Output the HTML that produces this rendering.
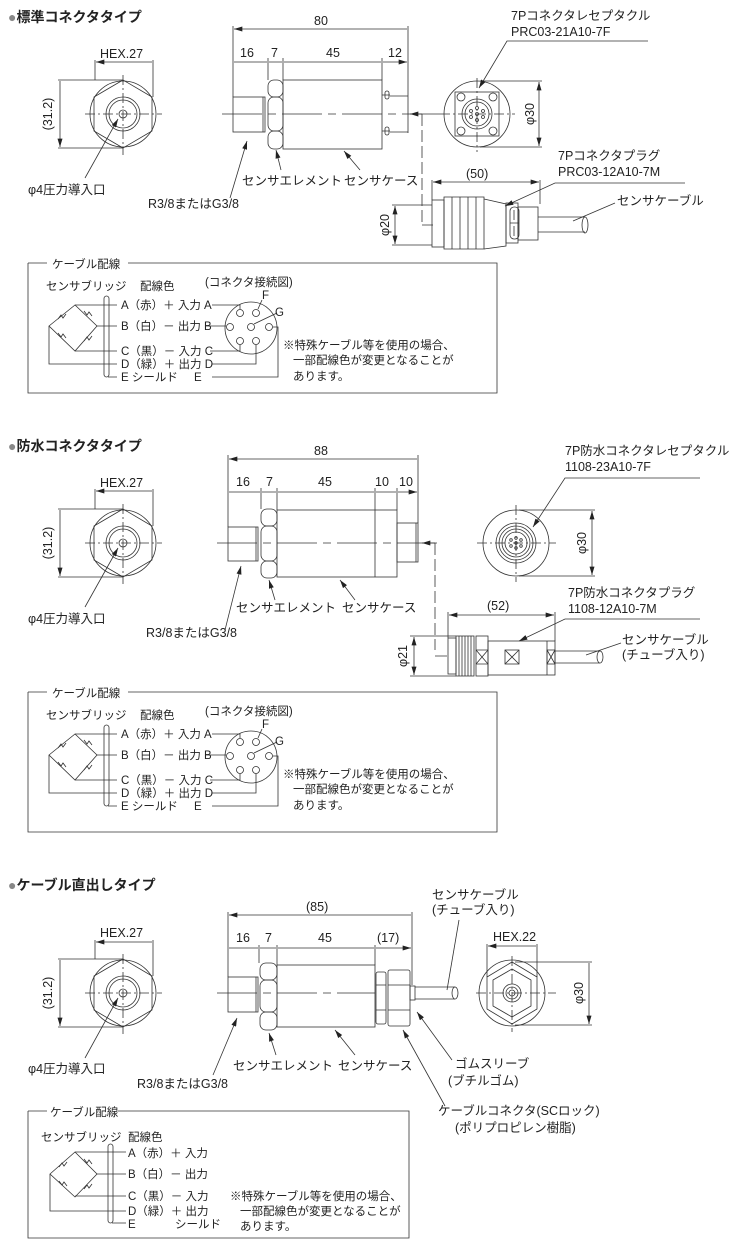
<!DOCTYPE html>
<html><head><meta charset="utf-8"><style>
html,body{margin:0;padding:0;background:#fff}
svg{display:block}
text{font-family:"Liberation Sans","Noto Sans CJK JP",sans-serif;fill:#222;font-size:12.5px}
.t{font-size:14px;font-weight:bold}
.s{font-size:11.5px}
.g{fill:#888}
</style></head><body>
<svg width="745" height="1250" viewBox="0 0 745 1250" xmlns="http://www.w3.org/2000/svg">
<defs>
<marker id="a" viewBox="0 0 10 6" refX="10" refY="3" markerUnits="userSpaceOnUse" markerWidth="9" markerHeight="5" orient="auto-start-reverse"><path d="M0,0L10,3L0,6z" fill="#222" stroke="none"/></marker>
</defs>
<g stroke="#333" stroke-width="0.8" fill="none">

<!-- ============ SECTION 1 ============ -->
<circle cx="123" cy="114" r="33"/>
<polygon points="123,80 152,97 152,131 123,148 94,131 94,97"/>
<circle cx="123" cy="114" r="17"/><circle cx="123" cy="114" r="14"/><circle cx="123" cy="114" r="4"/>
<path d="M85,114H162M123,75V155" stroke-dasharray="10,3,2,3"/>
<path d="M95,60V80M153,60V97M58,80H123M58,148H123"/>
<path d="M96,62H152M60,81V147" marker-start="url(#a)" marker-end="url(#a)"/>
<path d="M85,178L118,119" marker-end="url(#a)"/>
<rect x="233" y="97" width="32" height="35"/><path d="M263,97V132"/>
<rect x="268" y="80" width="15" height="17" rx="6"/><rect x="268" y="97" width="15" height="34" rx="6"/><rect x="268" y="131" width="15" height="18" rx="6"/>
<rect x="283" y="80" width="99" height="69"/>
<path d="M382,95h8M382,131h8"/><rect x="385" y="91" width="4" height="8" rx="2"/><rect x="385" y="127" width="4" height="8" rx="2"/>
<path d="M222,114H440" stroke-dasharray="40,6,8,6"/>
<path d="M233,26V97M408,26V133M268,58V80M283,58V80M382,58V80M390,96H408M390,132H408"/>
<path d="M234,29H407M234,62H267M269,62H282M284,62H381M383,62H407" marker-start="url(#a)" marker-end="url(#a)"/>
<path d="M422,114V225M422,225H433" stroke-dasharray="12,4"/>
<path d="M422,114H410" marker-end="url(#a)"/>
<path d="M230,198L247,141" marker-end="url(#a)"/>
<path d="M281,170L276,150" marker-end="url(#a)"/>
<path d="M360,170L344,151" marker-end="url(#a)"/>
<circle cx="477" cy="114" r="33"/>
<rect x="455" y="92" width="44" height="44"/>
<circle cx="461" cy="97" r="4"/><circle cx="493" cy="97" r="4"/><circle cx="461" cy="131" r="4"/><circle cx="493" cy="131" r="4"/>
<circle cx="477" cy="114" r="15"/><circle cx="477" cy="114" r="12"/>
<circle cx="477" cy="108" r="1.5"/><circle cx="477" cy="120" r="1.5"/><circle cx="471" cy="111" r="1.5"/><circle cx="483" cy="111" r="1.5"/><circle cx="471" cy="117" r="1.5"/><circle cx="483" cy="117" r="1.5"/><circle cx="477" cy="114" r="1.5"/>
<path d="M440,114H515M477,78V152" stroke-dasharray="10,3,2,3"/>
<path d="M480,81H542M480,147H542"/>
<path d="M539,82V146" marker-start="url(#a)" marker-end="url(#a)"/>
<path d="M648,41H507L479,88" marker-end="url(#a)"/>
<rect x="432" y="200" width="12" height="47"/>
<path d="M444,197h40v52h-40z"/><path d="M452,197v52M460,197v52M468,197v52M476,197v52"/>
<path d="M484,199l22,5v42l-22,3"/>
<rect x="506" y="203" width="12" height="40"/><rect x="510" y="207" width="9" height="32" rx="4"/>
<path d="M510,223h9M514,210v10M514,226v10"/>
<rect x="518" y="207" width="20" height="33"/>
<path d="M538,217H585M538,232H585"/><ellipse cx="585" cy="225" rx="3" ry="8"/>
<path d="M432,180V200M540,180V204M392,205H432M392,245H432"/>
<path d="M433,182H539" marker-start="url(#a)" marker-end="url(#a)"/>
<path d="M395,206V244" marker-start="url(#a)" marker-end="url(#a)"/>
<path d="M685,183H555L505,206" marker-end="url(#a)"/>
<path d="M615,203L573,221"/>

<!-- wiring box 1 -->
<path d="M28,263H47M128,263H497V393H28V263"/>
<path d="M49,326L75,305L97,326L75,351Z"/>
<path d="M58,319l3,-4l2,3l3,-4M84,311l3,4l2,-3l3,4M58,333l3,4l2,-3l3,4M84,341l3,-4l2,3l3,-4"/>
<path d="M75,305H117M97,326H117M75,351H117M49,326V364H117M108,377H117"/>
<rect x="104" y="296" width="5" height="81" rx="2.5"/>
<circle cx="251" cy="328" r="26"/>
<circle cx="240" cy="313" r="3.5"/><circle cx="256" cy="313" r="3.5"/><circle cx="230" cy="327" r="3.5"/><circle cx="251" cy="327" r="3.5"/><circle cx="269" cy="327" r="3.5"/><circle cx="240" cy="341" r="3.5"/><circle cx="256" cy="341" r="3.5"/>
<path d="M212,305H240V309M205,326H226M210,351H240V345M212,364H256V345M212,377H278V327H273"/>
<path d="M262,300L258,309M277,313L254,324"/>

<!-- ============ SECTION 2 ============ -->
<circle cx="123" cy="543" r="33"/>
<polygon points="123,509 152,526 152,560 123,577 94,560 94,526"/>
<circle cx="123" cy="543" r="17"/><circle cx="123" cy="543" r="14"/><circle cx="123" cy="543" r="4"/>
<path d="M85,543H162M123,504V584" stroke-dasharray="10,3,2,3"/>
<path d="M95,489V509M153,489V526M58,509H123M58,577H123"/>
<path d="M96,491H152M60,510V576" marker-start="url(#a)" marker-end="url(#a)"/>
<path d="M85,607L118,548" marker-end="url(#a)"/>
<rect x="228" y="527" width="30" height="34"/><path d="M256,527V561"/>
<rect x="261" y="509" width="16" height="17" rx="6"/><rect x="261" y="526" width="16" height="35" rx="6"/><rect x="261" y="561" width="16" height="17" rx="6"/>
<rect x="277" y="510" width="120" height="67"/><path d="M375,510V577"/>
<rect x="397" y="523" width="21" height="39"/><path d="M416,523V562"/>
<path d="M217,543H440" stroke-dasharray="40,6,8,6"/>
<path d="M228,455V527M418,455V523M261,488V509M277,488V510M375,488V510M397,488V510"/>
<path d="M229,459H417M229,492H260M262,492H276M278,492H374M376,492H396M398,492H417" marker-start="url(#a)" marker-end="url(#a)"/>
<path d="M435,543V650M435,656H450" stroke-dasharray="12,4"/>
<path d="M435,543H422" marker-end="url(#a)"/>
<path d="M225,630L241,566" marker-end="url(#a)"/>
<path d="M275,600L269,580" marker-end="url(#a)"/>
<path d="M355,600L340,580" marker-end="url(#a)"/>
<circle cx="516" cy="543" r="33"/>
<circle cx="516" cy="543" r="20"/><circle cx="516" cy="543" r="17"/><circle cx="516" cy="543" r="14"/><circle cx="516" cy="543" r="11"/>
<circle cx="516" cy="538" r="1.3"/><circle cx="516" cy="548" r="1.3"/><circle cx="511" cy="540" r="1.3"/><circle cx="521" cy="540" r="1.3"/><circle cx="511" cy="546" r="1.3"/><circle cx="521" cy="546" r="1.3"/><circle cx="516" cy="543" r="1.3"/>
<path d="M477,543H556M516,505V582" stroke-dasharray="10,3,2,3"/>
<path d="M519,510H595M519,576H595"/>
<path d="M592,511V575" marker-start="url(#a)" marker-end="url(#a)"/>
<path d="M700,478H565L533,527" marker-end="url(#a)"/>
<rect x="448" y="638" width="8" height="36"/>
<rect x="456" y="636" width="18" height="40"/><path d="M459,636v40M462,636v40M465,636v40M468,636v40M471,636v40"/>
<rect x="476" y="636" width="12" height="40"/><path d="M476,650l12,14M488,650l-12,14M476,650h12M476,664h12"/>
<rect x="488" y="641" width="67" height="34"/>
<rect x="505" y="650" width="14" height="14"/><path d="M505,650l14,14M519,650l-14,14"/>
<path d="M547,641V675"/><rect x="547" y="650" width="8" height="14"/><path d="M547,650l8,14M555,650l-8,14"/>
<path d="M555,651H600M555,663H600"/><ellipse cx="600" cy="657" rx="3" ry="6"/>
<path d="M448,612V638M555,612V641M410,636H456M410,676H456"/>
<path d="M449,615H554" marker-start="url(#a)" marker-end="url(#a)"/>
<path d="M414,637V675" marker-start="url(#a)" marker-end="url(#a)"/>
<path d="M700,619H565L519,641" marker-end="url(#a)"/>
<path d="M621,643L586,655"/>

<!-- wiring box 2 -->
<path d="M28,692H47M128,692H497V832H28V692"/>
<path d="M49,755L75,734L97,755L75,780Z"/>
<path d="M58,748l3,-4l2,3l3,-4M84,740l3,4l2,-3l3,4M58,762l3,4l2,-3l3,4M84,770l3,-4l2,3l3,-4"/>
<path d="M75,734H117M97,755H117M75,780H117M49,755V793H117M108,806H117"/>
<rect x="104" y="725" width="5" height="81" rx="2.5"/>
<circle cx="251" cy="757" r="26"/>
<circle cx="240" cy="742" r="3.5"/><circle cx="256" cy="742" r="3.5"/><circle cx="230" cy="756" r="3.5"/><circle cx="251" cy="756" r="3.5"/><circle cx="269" cy="756" r="3.5"/><circle cx="240" cy="770" r="3.5"/><circle cx="256" cy="770" r="3.5"/>
<path d="M212,734H240V738M205,755H226M210,780H240V774M212,793H256V774M212,806H278V756H273"/>
<path d="M262,729L258,738M277,742L254,753"/>

<!-- ============ SECTION 3 ============ -->
<circle cx="123" cy="993" r="33"/>
<polygon points="123,959 152,976 152,1010 123,1027 94,1010 94,976"/>
<circle cx="123" cy="993" r="17"/><circle cx="123" cy="993" r="14"/><circle cx="123" cy="993" r="4"/>
<path d="M85,993H162M123,954V1034" stroke-dasharray="10,3,2,3"/>
<path d="M95,940V959M153,940V976M58,959H123M58,1027H123"/>
<path d="M96,942H152M60,960V1026" marker-start="url(#a)" marker-end="url(#a)"/>
<path d="M85,1058L118,998" marker-end="url(#a)"/>
<rect x="228" y="977" width="30" height="35"/><path d="M256,977V1012"/>
<rect x="260" y="963" width="17" height="17" rx="6"/><rect x="260" y="980" width="17" height="32" rx="6"/><rect x="260" y="1012" width="17" height="18" rx="6"/>
<rect x="277" y="965" width="98" height="62"/>
<rect x="376" y="972" width="10" height="52" rx="2"/><path d="M376,985h10M376,1010h10"/>
<rect x="388" y="970" width="22" height="56" rx="2"/><path d="M388,985h22M388,1010h22"/>
<rect x="410" y="986" width="5" height="14"/>
<path d="M415,987H455M415,999H455"/><ellipse cx="455" cy="993" rx="3" ry="6"/>
<path d="M217,993H375" stroke-dasharray="40,6,8,6"/>
<path d="M228,912V977M412,912V985M259,945V963M277,945V965M375,945V965"/>
<path d="M229,915H411M229,948H258M260,948H276M278,948H374M376,948H411" marker-start="url(#a)" marker-end="url(#a)"/>
<path d="M459,920L447,990"/>
<path d="M213,1075L237,1018" marker-end="url(#a)"/>
<path d="M276,1055L269,1033" marker-end="url(#a)"/>
<path d="M355,1055L335,1030" marker-end="url(#a)"/>
<path d="M452,1060L417,1012" marker-end="url(#a)"/>
<path d="M445,1106L403,1030" marker-end="url(#a)"/>
<circle cx="512" cy="993" r="33"/>
<polygon points="512,962 537,977 537,1009 512,1024 487,1009 487,977"/>
<polygon points="512,969 531,980 531,1006 512,1017 493,1006 493,980"/>
<circle cx="512" cy="993" r="9"/><circle cx="512" cy="993" r="6"/><circle cx="512" cy="993" r="3"/>
<path d="M476,993H556M512,956V1032" stroke-dasharray="10,3,2,3"/>
<path d="M487,944V977M537,944V977M515,962H592M515,1025H592"/>
<path d="M488,946H536M589,963V1024" marker-start="url(#a)" marker-end="url(#a)"/>

<!-- wiring box 3 -->
<path d="M28,1111H47M118,1111H409V1238H28V1111"/>
<path d="M50,1174L75,1152L97,1174L75,1197Z"/>
<path d="M59,1167l3,-4l2,3l3,-4M84,1159l3,4l2,-3l3,4M59,1181l3,4l2,-3l3,4M84,1189l3,-4l2,3l3,-4"/>
<path d="M75,1152H126M97,1174H126M75,1196H126M50,1174V1211H126M112,1223H126"/>
<rect x="108" y="1144" width="5" height="79" rx="2.5"/>
</g>

<!-- ============ TEXT ============ -->
<text x="8" y="22" class="t"><tspan class="g">●</tspan>標準コネクタタイプ</text>
<text x="100" y="58">HEX.27</text>
<text x="52" y="114" transform="rotate(-90 52 114)" text-anchor="middle">(31.2)</text>
<text x="28" y="194">φ4圧力導入口</text>
<text x="314" y="25">80</text>
<text x="240" y="57">16</text><text x="271" y="57">7</text><text x="326" y="57">45</text><text x="388" y="57">12</text>
<text x="242" y="185">センサエレメント</text>
<text x="344" y="185">センサケース</text>
<text x="148" y="208">R3/8またはG3/8</text>
<text x="511" y="20">7Pコネクタレセプタクル</text>
<text x="511" y="36">PRC03-21A10-7F</text>
<text x="534" y="114" transform="rotate(-90 534 114)" text-anchor="middle">φ30</text>
<text x="558" y="160">7Pコネクタプラグ</text>
<text x="558" y="176">PRC03-12A10-7M</text>
<text x="466" y="178">(50)</text>
<text x="617" y="205">センサケーブル</text>
<text x="389" y="225" transform="rotate(-90 389 225)" text-anchor="middle">φ20</text>

<text x="52" y="268" class="s">ケーブル配線</text>
<text x="46" y="290" class="s">センサブリッジ</text>
<text x="140" y="290" class="s">配線色</text>
<text x="205" y="286" class="s">(コネクタ接続図)</text>
<text x="121" y="309" class="s">A（赤）＋ 入力  A</text>
<text x="121" y="330" class="s">B（白）－ 出力  B</text>
<text x="121" y="355" class="s">C（黒）－ 入力  C</text>
<text x="121" y="368" class="s">D（緑）＋ 出力  D</text>
<text x="121" y="381" class="s">E シールド</text><text x="194" y="381" class="s">E</text>
<text x="262" y="299" class="s">F</text><text x="275" y="316" class="s">G</text>
<text x="283" y="349" class="s">※特殊ケーブル等を使用の場合、</text>
<text x="293" y="364" class="s">一部配線色が変更となることが</text>
<text x="293" y="380" class="s">あります。</text>

<text x="8" y="451" class="t"><tspan class="g">●</tspan>防水コネクタタイプ</text>
<text x="100" y="487">HEX.27</text>
<text x="52" y="543" transform="rotate(-90 52 543)" text-anchor="middle">(31.2)</text>
<text x="28" y="623">φ4圧力導入口</text>
<text x="314" y="455">88</text>
<text x="236" y="486">16</text><text x="266" y="486">7</text><text x="318" y="486">45</text><text x="375" y="486">10</text><text x="399" y="486">10</text>
<text x="236" y="612">センサエレメント</text>
<text x="342" y="612">センサケース</text>
<text x="146" y="637">R3/8またはG3/8</text>
<text x="565" y="455">7P防水コネクタレセプタクル</text>
<text x="565" y="471">1108-23A10-7F</text>
<text x="586" y="543" transform="rotate(-90 586 543)" text-anchor="middle">φ30</text>
<text x="568" y="597">7P防水コネクタプラグ</text>
<text x="568" y="613">1108-12A10-7M</text>
<text x="487" y="610">(52)</text>
<text x="622" y="644">センサケーブル</text>
<text x="622" y="659">(チューブ入り)</text>
<text x="407" y="656" transform="rotate(-90 407 656)" text-anchor="middle">φ21</text>

<text x="52" y="697" class="s">ケーブル配線</text>
<text x="46" y="719" class="s">センサブリッジ</text>
<text x="140" y="719" class="s">配線色</text>
<text x="205" y="715" class="s">(コネクタ接続図)</text>
<text x="121" y="738" class="s">A（赤）＋ 入力  A</text>
<text x="121" y="759" class="s">B（白）－ 出力  B</text>
<text x="121" y="784" class="s">C（黒）－ 入力  C</text>
<text x="121" y="797" class="s">D（緑）＋ 出力  D</text>
<text x="121" y="810" class="s">E シールド</text><text x="194" y="810" class="s">E</text>
<text x="262" y="728" class="s">F</text><text x="275" y="745" class="s">G</text>
<text x="283" y="778" class="s">※特殊ケーブル等を使用の場合、</text>
<text x="293" y="793" class="s">一部配線色が変更となることが</text>
<text x="293" y="809" class="s">あります。</text>

<text x="8" y="890" class="t"><tspan class="g">●</tspan>ケーブル直出しタイプ</text>
<text x="100" y="937">HEX.27</text>
<text x="52" y="993" transform="rotate(-90 52 993)" text-anchor="middle">(31.2)</text>
<text x="28" y="1073">φ4圧力導入口</text>
<text x="306" y="911">(85)</text>
<text x="236" y="942">16</text><text x="265" y="942">7</text><text x="318" y="942">45</text><text x="377" y="942">(17)</text>
<text x="432" y="899">センサケーブル</text>
<text x="432" y="914">(チューブ入り)</text>
<text x="493" y="941">HEX.22</text>
<text x="583" y="993" transform="rotate(-90 583 993)" text-anchor="middle">φ30</text>
<text x="233" y="1070">センサエレメント</text>
<text x="338" y="1070">センサケース</text>
<text x="137" y="1088">R3/8またはG3/8</text>
<text x="455" y="1068">ゴムスリーブ</text>
<text x="448" y="1085">(ブチルゴム)</text>
<text x="438" y="1115">ケーブルコネクタ(SCロック)</text>
<text x="455" y="1132">(ポリプロピレン樹脂)</text>

<text x="50" y="1116" class="s">ケーブル配線</text>
<text x="41" y="1141" class="s">センサブリッジ</text>
<text x="128" y="1141" class="s">配線色</text>
<text x="128" y="1157" class="s">A（赤）＋ 入力</text>
<text x="128" y="1178" class="s">B（白）－ 出力</text>
<text x="128" y="1200" class="s">C（黒）－ 入力</text>
<text x="128" y="1215" class="s">D（緑）＋ 出力</text>
<text x="128" y="1228" class="s">E</text><text x="175" y="1228" class="s">シールド</text>
<text x="230" y="1200" class="s">※特殊ケーブル等を使用の場合、</text>
<text x="240" y="1215" class="s">一部配線色が変更となることが</text>
<text x="240" y="1230" class="s">あります。</text>
</svg>
</body></html>
